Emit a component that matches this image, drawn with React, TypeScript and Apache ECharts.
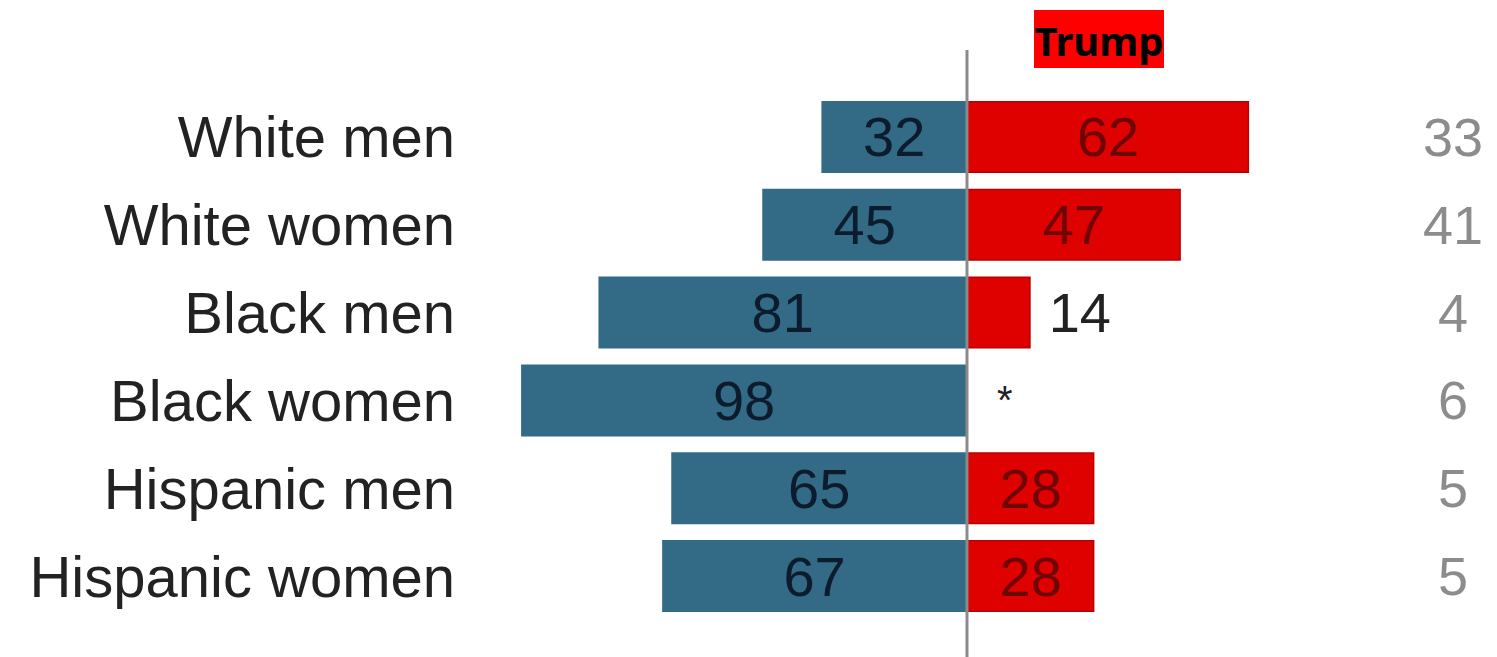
import React, { useEffect, useRef } from "react";
import * as echarts from "echarts";

const categories = ["White men", "White women", "Black men", "Black women", "Hispanic men", "Hispanic women"];
const clintonValues = [32, 45, 81, 98, 65, 67];
const trumpValues = [62, 47, 14, 0, 28, 28];
const trumpLabels = ["62", "47", "14", "*", "28", "28"];
const shareValues = ["33", "41", "4", "6", "5", "5"];

export default function App() {
  const ref = useRef<HTMLDivElement>(null);
  useEffect(() => {
    document.body.style.margin = "0";
    const chart = echarts.init(ref.current!, null, { renderer: "svg" });
    const font = "Liberation Sans";
    const option: any = {
      animation: false,
      grid: { left: 512, right: 75, top: 93, bottom: 37 },
      xAxis: {
        type: "value",
        min: -100,
        max: 100,
        show: false,
      },
      yAxis: [
        {
          type: "category",
          data: categories,
          inverse: true,
          axisLine: { show: false },
          axisTick: { show: false },
          splitLine: { show: false },
          axisLabel: { fontSize: 58, color: "#222", fontFamily: font, margin: 57 },
        },
        {
          type: "category",
          data: shareValues,
          inverse: true,
          position: "right",
          axisLine: { show: false },
          axisTick: { show: false },
          splitLine: { show: false },
          axisLabel: { fontSize: 54, color: "#8c8c8c", fontFamily: font, margin: 31, align: "center" },
        },
      ],
      series: [
        {
          type: "bar",
          barWidth: 72,
          barGap: "-100%",
          data: clintonValues.map((v) => -v),
          itemStyle: { color: "#336a86" },
          label: {
            show: true,
            position: "inside",
            fontSize: 56,
            fontFamily: font,
            color: "#0c1c2c",
            formatter: (p: any) => String(Math.abs(p.value)),
          },
        },
        {
          type: "bar",
          barWidth: 72,
          barGap: "-100%",
          data: trumpValues.map((v, i) => {
            const outside = v < 20;
            return {
              value: v,
              itemStyle: v === 0 ? { borderWidth: 0 } : undefined,
              label: outside
                ? {
                    show: true,
                    position: "right",
                    distance: v === 0 ? 30 : 18,
                    color: "#222",
                    fontSize: v === 0 ? 40 : 56,
                    formatter: trumpLabels[i],
                  }
                : undefined,
            };
          }),
          itemStyle: { color: "#df0000", borderColor: "#b80000", borderWidth: 1.5 },
          label: {
            show: true,
            position: "inside",
            fontSize: 56,
            fontFamily: font,
            color: "#6e0505",
            formatter: (p: any) => trumpLabels[p.dataIndex],
          },
        },
      ],
    };
    chart.setOption(option);
    const x0 = chart.convertToPixel({ xAxisIndex: 0 }, 0) as number;
    chart.setOption({
      graphic: [
        {
          type: "line",
          shape: { x1: x0, y1: 50, x2: x0, y2: 657 },
          style: { stroke: "#8a8a8a", lineWidth: 3 },
          z: 100,
        },
        {
          type: "rect",
          shape: { x: 1034, y: 10, width: 130, height: 58 },
          style: { fill: "#ff0000" },
        },
        {
          type: "text",
          x: 1099,
          y: 40,
          style: {
            text: "Trump",
            fill: "#000",
            font: "bold 40px 'Noto Sans'",
            align: "center",
            verticalAlign: "middle",
          },
        },
      ],
    });
    return () => chart.dispose();
  }, []);
  return <div ref={ref} style={{ width: 1497, height: 657 }} />;
}
